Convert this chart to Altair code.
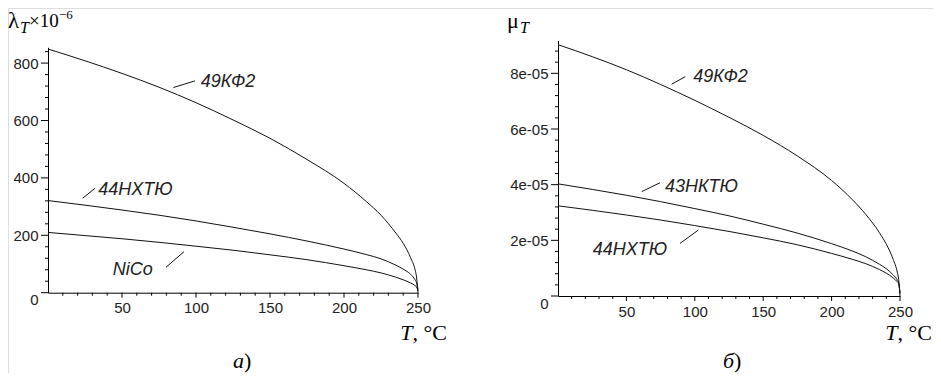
import altair as alt
import pandas as pd

# ---------------- data ----------------
T_grid = [0, 25, 50, 75, 100, 125, 150, 175, 200, 215, 225, 235, 240, 245, 248, 249, 250]

# panel a) lambda_T x 10^-6
lam_49KF2 = [849, 808, 764, 716, 662, 602, 538, 464, 381, 318, 270, 208, 172, 122, 80, 55, 0]
lam_44NHTU = [321, 305, 288, 270, 250, 228, 205, 180, 152, 133, 118, 96, 82, 64, 45, 35, 10]
lam_NiCo = [210, 199, 188, 175.5, 162, 148, 132, 115, 94, 80, 69, 54, 45, 34, 25, 20, 6]

# panel б) mu_T
mu_49KF2 = [9.03e-5, 8.60e-5, 8.13e-5, 7.60e-5, 7.03e-5, 6.42e-5, 5.77e-5, 5.03e-5, 4.15e-5,
            3.47e-5, 2.93e-5, 2.27e-5, 1.86e-5, 1.32e-5, 0.86e-5, 0.60e-5, 0.0]
mu_43NKTU = [4.03e-5, 3.83e-5, 3.62e-5, 3.39e-5, 3.14e-5, 2.88e-5, 2.58e-5, 2.26e-5, 1.88e-5,
             1.62e-5, 1.41e-5, 1.14e-5, 0.98e-5, 0.76e-5, 0.58e-5, 0.48e-5, 0.10e-5]
mu_44NHTU = [3.24e-5, 3.08e-5, 2.91e-5, 2.73e-5, 2.53e-5, 2.32e-5, 2.09e-5, 1.84e-5, 1.53e-5,
             1.32e-5, 1.16e-5, 0.95e-5, 0.82e-5, 0.65e-5, 0.51e-5, 0.44e-5, 0.10e-5]

# annotations (data coordinates)
annL_labels = ["49КФ2", "44НХТЮ", "NiCo"]
annL_T = [103.2, 34.0, 43.7]
annL_v = [715.5, 340.6, 61.7]
leadL_T1 = [84.7, 23.4, 79.7]
leadL_v1 = [714.8, 329.0, 88.6]
leadL_T2 = [99.3, 31.8, 91.9]
leadL_v2 = [738.0, 364.0, 143.0]

annR_labels = ["49КФ2", "43НКТЮ", "44НХТЮ"]
annR_T = [98.9, 78.2, 25.4]
annR_v = [7.70e-5, 3.75e-5, 1.47e-5]
leadR_T1 = [83.1, 61.2, 89.2]
leadR_v1 = [7.61e-5, 3.75e-5, 1.89e-5]
leadR_T2 = [93.0, 74.6, 102.6]
leadR_v2 = [7.88e-5, 4.07e-5, 2.37e-5]

# tick values
x_major = [50, 100, 150, 200, 250]
x_minor = [t for t in range(10, 251, 10) if t % 50 != 0]
yL_major = [0, 200, 400, 600, 800]
yL_minor = [v for v in range(40, 841, 40) if v % 200 != 0]
yR_major = [0.0, 2e-5, 4e-5, 6e-5, 8e-5]
yR_minor = [round(i * 0.4e-5, 12) for i in range(1, 23) if i % 5 != 0]

# ---------------- helpers ----------------
INK = "#111111"
LABEL_FONT = "Liberation Sans"
SERIF = "Liberation Serif"


def long_df(series):
    rows = []
    for name, vals in series.items():
        for t, v in zip(T_grid, vals):
            rows.append({"series": name, "T": t, "v": v})
    return pd.DataFrame(rows)


def axis_common():
    return dict(title=None, grid=False, labelFlush=False, labelOverlap=False,
                labelFont=LABEL_FONT, labelFontSize=15, labelColor="#222",
                domainColor="#000", domainWidth=1, ticks=False)


def x_axis(offset):
    return alt.Axis(orient="bottom", offset=offset, values=x_major,
                    labelPadding=8, **axis_common())


def y_axis(offset, values, label_expr):
    return alt.Axis(orient="left", offset=offset, values=values,
                    labelPadding=10, labelExpr=label_expr,
                    labelBaseline={"condition": {"test": "datum.value === 0", "value": "top"},
                                   "value": "middle"},
                    **axis_common())


def panel(df, xdom, xrng, ydom, yrng, xax, yax,
          ann_labels, ann_T, ann_v, l_T1, l_v1, l_T2, l_v2,
          xmaj, xmin, ymaj, ymin):
    X = alt.X("T:Q", scale=alt.Scale(domain=xdom, range=xrng, nice=False, zero=False), axis=xax)
    Y = alt.Y("v:Q", scale=alt.Scale(domain=ydom, range=yrng, nice=False), axis=yax)
    # pixel -> data unit factors of this panel's scales (for tick lengths)
    ux = (xdom[1] - xdom[0]) / (xrng[1] - xrng[0])
    uy = (ydom[1] - ydom[0]) / (yrng[0] - yrng[1])

    lines = alt.Chart(df).mark_line(color=INK, strokeWidth=1, interpolate="monotone").encode(
        x=X, y=Y, detail="series:N",
    )
    lead = pd.DataFrame({"T": l_T1, "v": l_v1, "T2": l_T2, "v2": l_v2})
    rules = alt.Chart(lead).mark_rule(color=INK, strokeWidth=1).encode(
        x=X, y=Y, x2="T2:Q", y2="v2:Q",
    )
    ann = pd.DataFrame({"label": ann_labels, "T": ann_T, "v": ann_v})
    texts = alt.Chart(ann).mark_text(
        align="left", baseline="alphabetic", font=LABEL_FONT, fontSize=18,
        fontStyle="italic", color="#222"
    ).encode(x=X, y=Y, text="label:N")

    def xticks(vals, length_px):
        d = pd.DataFrame({"T": vals, "T2": vals, "v": [ydom[0]] * len(vals),
                          "v2": [ydom[0] - length_px * uy] * len(vals)})
        return alt.Chart(d).mark_rule(color="#000", strokeWidth=1).encode(
            x=X, x2="T2:Q", y=Y, y2="v2:Q")

    def yticks(vals, length_px):
        d = pd.DataFrame({"v": vals, "v2": vals, "T": [xdom[0]] * len(vals),
                          "T2": [xdom[0] - length_px * ux] * len(vals)})
        return alt.Chart(d).mark_rule(color="#000", strokeWidth=1).encode(
            x=X, x2="T2:Q", y=Y, y2="v2:Q")

    return alt.layer(lines, rules, texts,
                     xticks(xmaj, 5), xticks(xmin, 3),
                     yticks(ymaj, 7), yticks(ymin, 3))


def ptext(label, x, y, size, style="normal", align="left", font=SERIF):
    return alt.Chart(pd.DataFrame({"label": [label]})).mark_text(
        align=align, baseline="alphabetic", font=font, fontSize=size,
        fontStyle=style, color="#000"
    ).encode(text="label:N", x=alt.value(x), y=alt.value(y))


# ---------------- panels ----------------
dfL = long_df({"49КФ2": lam_49KF2, "44НХТЮ": lam_44NHTU, "NiCo": lam_NiCo})
dfR = long_df({"49КФ2": mu_49KF2, "43НКТЮ": mu_43NKTU, "44НХТЮ": mu_44NHTU})

left = panel(
    dfL, [0, 250], [40, 410], [0, 855], [284.7, 39.3],
    x_axis(-80.3), y_axis(-40, yL_major, "datum.label"),
    annL_labels, annL_T, annL_v, leadL_T1, leadL_v1, leadL_T2, leadL_v2,
    x_major, x_minor, yL_major, yL_minor,
)
right = panel(
    dfR, [0, 250], [550, 892], [0, 9.18e-5], [288, 32.5],
    x_axis(-77),
    y_axis(-550, yR_major, "datum.value === 0 ? '0' : round(datum.value*1e5) + 'e-05'"),
    annR_labels, annR_T, annR_v, leadR_T1, leadR_v1, leadR_T2, leadR_v2,
    x_major, x_minor, yR_major, yR_minor,
)

titles = [
    # left y title: λ_T × 10^-6
    ptext("λ", 0, 20, 23),
    ptext("T", 12, 25, 16, style="italic"),
    ptext("×10", 21, 19, 19),
    ptext("−6", 51, 11, 13),
    # right y title: μ_T
    ptext("μ", 499, 20, 22),
    ptext("T", 512, 25, 16, style="italic"),
    # x titles
    ptext(", °C", 439, 332, 22, align="right"),
    ptext("T", 404.5, 332, 22, style="italic", align="right"),
    ptext(", °C", 924, 332, 22, align="right"),
    ptext("T", 889.5, 332, 22, style="italic", align="right"),
    # panel letters
    ptext("а", 236, 360, 22, style="italic", align="right"),
    ptext(")", 236, 360, 22),
    ptext("б", 726, 360, 22, style="italic", align="right"),
    ptext(")", 726, 360, 22),
]

chart = alt.layer(left, right, *titles).resolve_scale(
    x="independent", y="independent"
).properties(
    width=925, height=365, padding=0,
    autosize=alt.AutoSizeParams(type="none"),
).configure_view(stroke=None).configure(background="white")

chart.save("out.html", embed_options={"renderer": "svg", "actions": False})
